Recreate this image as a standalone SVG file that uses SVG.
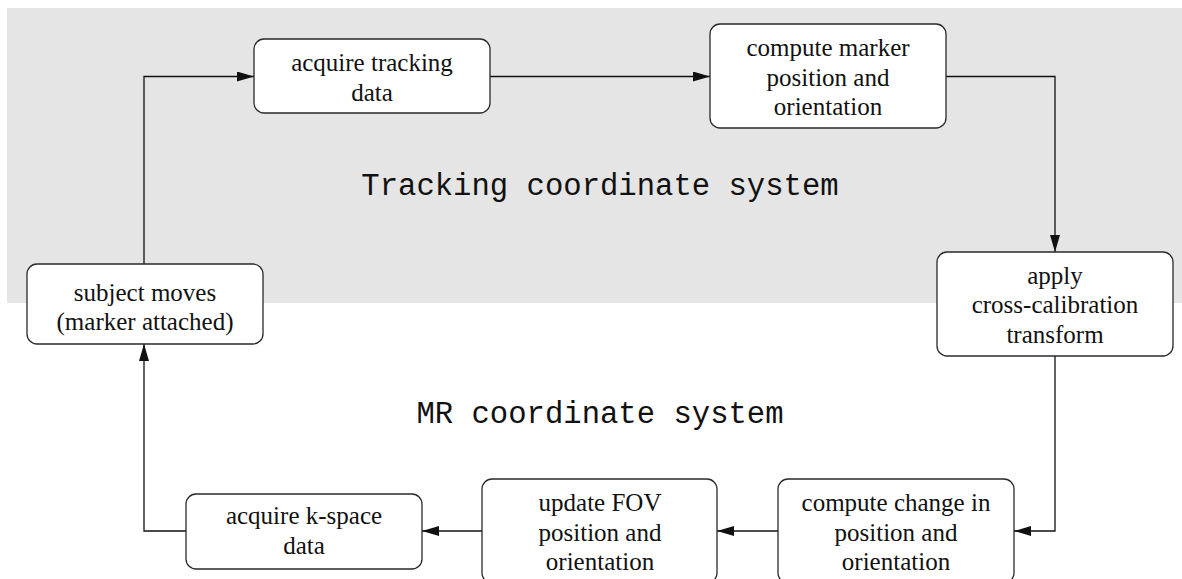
<svg xmlns="http://www.w3.org/2000/svg" width="1182" height="579" viewBox="0 0 1182 579">
  <defs>
    <style>
      .bg { fill: #e5e5e5; }
      .box { fill: #ffffff; stroke: #2a2a2a; stroke-width: 1.3; }
      .lbl { font-family: 'Liberation Serif', 'Times New Roman', Times, 'DejaVu Serif', serif; font-size: 25px; fill: #111; text-anchor: middle; }
      .title { font-family: 'Liberation Mono', 'DejaVu Sans Mono', monospace; font-size: 30.6px; fill: #111; text-anchor: middle; }
      .conn { fill: none; stroke: #111; stroke-width: 1.3; marker-end: url(#arrow); }
    </style>
    <marker id="arrow" markerUnits="userSpaceOnUse" viewBox="0 0 17 10" refX="17" refY="5" markerWidth="17" markerHeight="10" orient="auto">
      <path d="M0,0 L17,5 L0,10 Z" fill="#111"/>
    </marker>
  </defs>

  <rect class="bg" x="7" y="8" width="1175" height="295"/>
  <text class="title" x="600" y="195">Tracking coordinate system</text>
  <text class="title" x="600" y="423">MR coordinate system</text>

  <g id="connectors">
    <path class="conn" d="M144,264 V76.5 H254"/>
    <path class="conn" d="M490,76.5 H710"/>
    <path class="conn" d="M946,76.5 H1055 V252"/>
    <path class="conn" d="M1055,356 V531 H1014"/>
    <path class="conn" d="M778,531 H717"/>
    <path class="conn" d="M482,531 H422"/>
    <path class="conn" d="M186,531 H144 V344"/>
  </g>

  <g id="acquire-tracking">
    <rect class="box" x="254" y="39" width="236" height="74" rx="10"/>
    <text class="lbl" font-family="Liberation Serif, serif" x="372" y="71">acquire tracking</text>
    <text class="lbl" font-family="Liberation Serif, serif" x="372" y="101">data</text>
  </g>

  <g id="compute-marker">
    <rect class="box" x="710" y="24" width="236" height="104" rx="10"/>
    <text class="lbl" x="828" y="56">compute marker</text>
    <text class="lbl" x="828" y="86">position and</text>
    <text class="lbl" x="828" y="115">orientation</text>
  </g>

  <g id="apply-transform">
    <rect class="box" x="937" y="252" width="236" height="104" rx="10"/>
    <text class="lbl" x="1055" y="284">apply</text>
    <text class="lbl" x="1055" y="313">cross-calibration</text>
    <text class="lbl" x="1055" y="343">transform</text>
  </g>

  <g id="subject-moves">
    <rect class="box" x="27" y="264" width="236" height="80" rx="10"/>
    <text class="lbl" x="145" y="301">subject moves</text>
    <text class="lbl" x="145" y="330">(marker attached)</text>
  </g>

  <g id="compute-change">
    <rect class="box" x="778" y="479" width="236" height="104" rx="10"/>
    <text class="lbl" x="896" y="511">compute change in</text>
    <text class="lbl" x="896" y="541">position and</text>
    <text class="lbl" x="896" y="570">orientation</text>
  </g>

  <g id="update-fov">
    <rect class="box" x="482" y="479" width="235" height="104" rx="10"/>
    <text class="lbl" x="600" y="511">update FOV</text>
    <text class="lbl" x="600" y="541">position and</text>
    <text class="lbl" x="600" y="570">orientation</text>
  </g>

  <g id="acquire-kspace">
    <rect class="box" x="186" y="494" width="236" height="75" rx="10"/>
    <text class="lbl" x="304" y="524">acquire k-space</text>
    <text class="lbl" x="304" y="554">data</text>
  </g>
</svg>
